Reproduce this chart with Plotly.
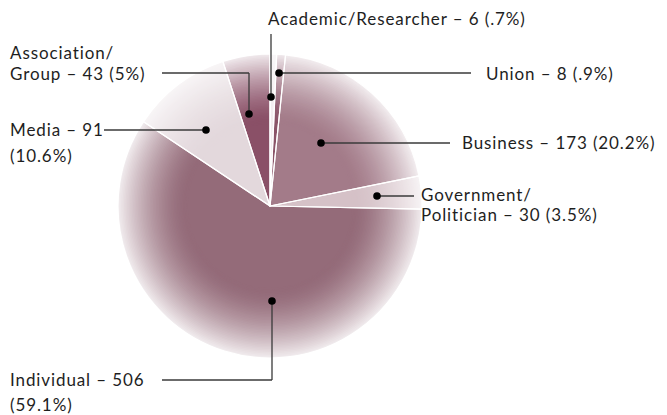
import plotly.graph_objects as go

# ---- data ----
categories = ["Academic/Researcher", "Union", "Business", "Government/Politician",
              "Individual", "Media", "Association/Group"]
counts = [6, 8, 173, 30, 506, 91, 43]
percent_labels = [".7%", ".9%", "20.2%", "3.5%", "59.1%", "10.6%", "5%"]
slice_colors = ["#f3eef0", "#8a5468", "#a37b89", "#d5c1c7", "#946b79", "#e3d8dc", "#8a5067"]

W, H = 667, 415
CX, CY, R = 270, 206, 152

def hex2rgb(h):
    h = h.lstrip("#")
    return tuple(int(h[i:i + 2], 16) for i in (0, 2, 4))

def mix(c, amt, target=(250, 248, 249)):
    r, g, b = hex2rgb(c)
    return "rgb(%d,%d,%d)" % tuple(round(v + (t - v) * amt) for v, t in zip((r, g, b), target))

def fade(frac):
    t = max(0.0, min(1.0, (frac - 0.56) / 0.44))
    return 0.92 * t ** 1.5

fig = go.Figure()
N = 46
fracs = [1.0 - i * (1.0 - 0.54) / N for i in range(N)] + [0.54]
for k, f in enumerate(fracs):
    rr = R * f
    amt = fade(f - 0.5 * (0.46 / N))
    fig.add_trace(go.Pie(
        labels=categories, values=counts, sort=False, direction="clockwise",
        rotation=0, textinfo="none", hoverinfo="skip" if k else "label+value",
        marker=dict(colors=[mix(c, amt) for c in slice_colors], line=dict(width=0)),
        domain=dict(x=[(CX - rr) / W, (CX + rr) / W], y=[(H - CY - rr) / H, (H - CY + rr) / H]),
        showlegend=False,
    ))
# white separators on top
fig.add_trace(go.Pie(
    labels=categories, values=counts, sort=False, direction="clockwise", rotation=0,
    textinfo="none", hoverinfo="skip",
    marker=dict(colors=["rgba(0,0,0,0)"] * len(counts), line=dict(color="white", width=1.2)),
    domain=dict(x=[(CX - R) / W, (CX + R) / W], y=[(H - CY - R) / H, (H - CY + R) / H]),
    showlegend=False,
))

def px(x):
    return x / W

def py(y):
    return 1 - y / H

shapes = []
def line(pts):
    for (x0, y0), (x1, y1) in zip(pts[:-1], pts[1:]):
        shapes.append(dict(type="line", xref="paper", yref="paper",
                           x0=px(x0), y0=py(y0), x1=px(x1), y1=py(y1),
                           line=dict(color="#3a3a3a", width=1.3)))

def dot(x, y, r=3.8):
    shapes.append(dict(type="circle", xref="paper", yref="paper",
                       x0=px(x - r), x1=px(x + r), y0=py(y - r), y1=py(y + r),
                       fillcolor="black", line=dict(width=0)))

annos = []
def text(x, y, s):
    annos.append(dict(x=px(x), y=py(y), xref="paper", yref="paper",
                      text='<span style="letter-spacing:0.9px">%s</span>' % s,
                      showarrow=False, xanchor="left", yanchor="middle", borderpad=0,
                      font=dict(family="Lato", size=17, color="#1e1e1e")))

# Academic
line([(271, 34), (271, 97)]); dot(271, 97)
text(267, 18, "Academic/Researcher – %d (%s)" % (counts[0], percent_labels[0]))
# Union
line([(279, 73), (471, 73)]); dot(279, 73)
text(485, 73, "Union – %d (%s)" % (counts[1], percent_labels[1]))
# Business
line([(321, 143), (450, 143)]); dot(321, 143)
text(461, 142, "Business – %d (%s)" % (counts[2], percent_labels[2]))
# Government
line([(377, 196), (414, 196)]); dot(377, 196)
text(420, 194, "Government/")
text(420, 214, "Politician – %d (%s)" % (counts[3], percent_labels[3]))
# Individual
line([(272, 301), (272, 380), (162, 380)]); dot(272, 301)
text(9, 379, "Individual – %d" % counts[4])
text(9, 404, "(%s)" % percent_labels[4])
# Media
line([(104, 130), (206, 130)]); dot(206, 130)
text(9, 129, "Media – %d" % counts[5])
text(9, 155, "(%s)" % percent_labels[5])
# Association
line([(162, 73), (249, 73), (249, 114)]); dot(249, 114)
text(9, 53, "Association/")
text(9, 73, "Group – %d (%s)" % (counts[6], percent_labels[6]))

fig.update_layout(width=W, height=H, margin=dict(l=0, r=0, t=0, b=0),
                  paper_bgcolor="white", plot_bgcolor="white",
                  shapes=shapes, annotations=annos, showlegend=False)
fig.write_html("out.html", config={"displayModeBar": False},
               post_script="document.body.style.margin='0';document.body.style.overflow='hidden';")
